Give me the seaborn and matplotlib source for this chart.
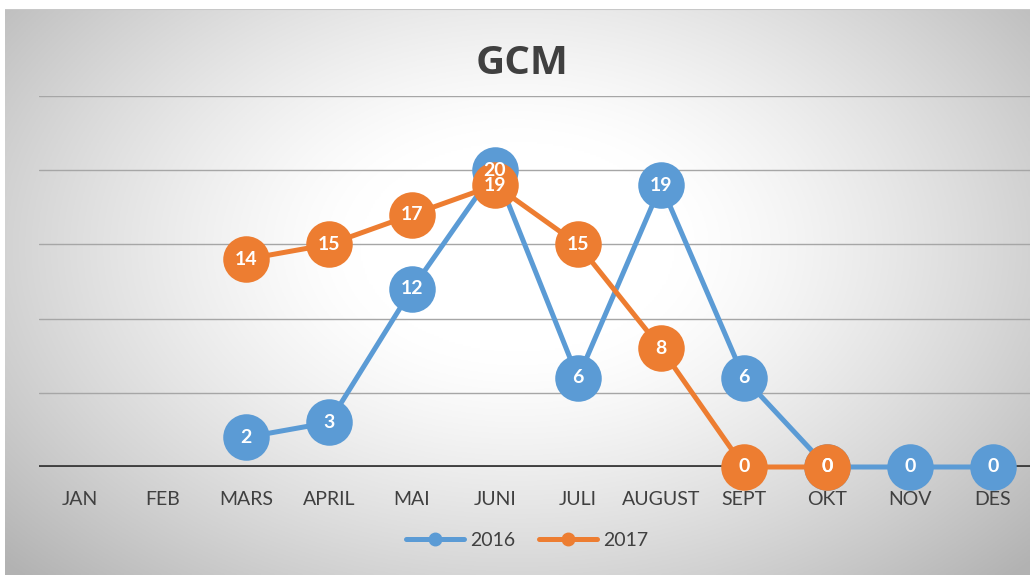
import numpy as np
import pandas as pd
import matplotlib
matplotlib.use("Agg")
import matplotlib.pyplot as plt
from matplotlib.lines import Line2D
import seaborn as sns

months = ["JAN", "FEB", "MARS", "APRIL", "MAI", "JUNI", "JULI", "AUGUST", "SEPT", "OKT", "NOV", "DES"]
values_2016 = [np.nan, np.nan, 2, 3, 12, 20, 6, 19, 6, 0, 0, 0]
values_2017 = [np.nan, np.nan, 14, 15, 17, 19, 15, 8, 0, 0, np.nan, np.nan]
series_names = ["2016", "2017"]
colors = {"2016": "#5B9BD5", "2017": "#ED7D31"}

rows = []
for name, vals in zip(series_names, [values_2016, values_2017]):
    for i, (m, v) in enumerate(zip(months, vals)):
        rows.append({"pos": i, "month": m, "value": v, "series": name})
df = pd.DataFrame(rows)

sns.set_theme(style="white")
plt.rcParams["font.family"] = ["Lato", "DejaVu Sans"]

W, H = 1030, 575
fig = plt.figure(figsize=(W / 100, H / 100), dpi=100)
fig.patch.set_facecolor("white")

# background gradient panel
bg = fig.add_axes([5 / W, 0, 1 - 5 / W, (H - 9) / H])
yy, xx = np.mgrid[0:300, 0:500]
cx, cy = 0.5, 0.42
dx = (xx / 499 - cx) / 0.62
dy = (yy / 299 - cy) / 0.75
r = np.sqrt(dx ** 2 + dy ** 2)
val = 1 - 0.30 * np.clip((r - 0.25) / 0.85, 0, 1) ** 1.3
img = np.dstack([val, val, val])
bg.imshow(img, aspect="auto", extent=[0, 1, 0, 1], origin="upper")
bg.set_axis_off()
bg.add_line(Line2D([0, 1], [1, 1], color="#c8c8c8", lw=1.5, transform=bg.transAxes))

# main axes
left_px = 38.5
ax = fig.add_axes([left_px / W, (H - 467) / H, 996 / W, 371 / H])
ax.patch.set_alpha(0)

sns.lineplot(data=df, x="pos", y="value", hue="series", palette=colors,
             hue_order=series_names, marker="o", markersize=33.5, markeredgewidth=0,
             linewidth=3.6, ax=ax, legend=False, sort=False, zorder=3)
for ln in ax.lines:
    ln.set_clip_on(False)

for name, vals in zip(series_names, [values_2016, values_2017]):
    for i, v in enumerate(vals):
        if not np.isnan(v):
            ax.text(i, v, f"{int(v)}", color="white", ha="center", va="center",
                    fontsize=14, fontweight="bold", zorder=10)

ax.set_xlim(-0.5, 11.5)
ax.set_ylim(0, 25)
ax.set_yticks([5, 10, 15, 20, 25])
ax.yaxis.grid(True, color="#a6a6a6", lw=1.0)
ax.set_axisbelow(True)
ax.tick_params(axis="y", left=False, labelleft=False)
ax.axhline(0, color="#404040", lw=2.8, zorder=2)
ax.set_xticks(range(len(months)))
ax.set_xticklabels(months, fontsize=14, color="#404040")
ax.tick_params(axis="x", bottom=False, pad=11)
for s in ax.spines.values():
    s.set_visible(False)
ax.set_xlabel("")
ax.set_ylabel("")

fig.text(522 / W, 1 - 63 / H, "GCM", ha="center", va="center", fontsize=29,
         fontweight="bold", color="#404040", family=["Open Sans", "DejaVu Sans"],
         fontstretch="condensed")

handles = [Line2D([0], [0], color=colors[n], lw=3.6, marker="o", markersize=9) for n in series_names]
leg = fig.legend(handles, series_names, loc="center", bbox_to_anchor=(527 / W, 1 - 540 / H),
                 ncol=2, frameon=False, fontsize=14, handlelength=3.0, columnspacing=1.2,
                 handletextpad=0.3)
for t in leg.get_texts():
    t.set_color("#404040")

fig.savefig("out.png", dpi=100)
